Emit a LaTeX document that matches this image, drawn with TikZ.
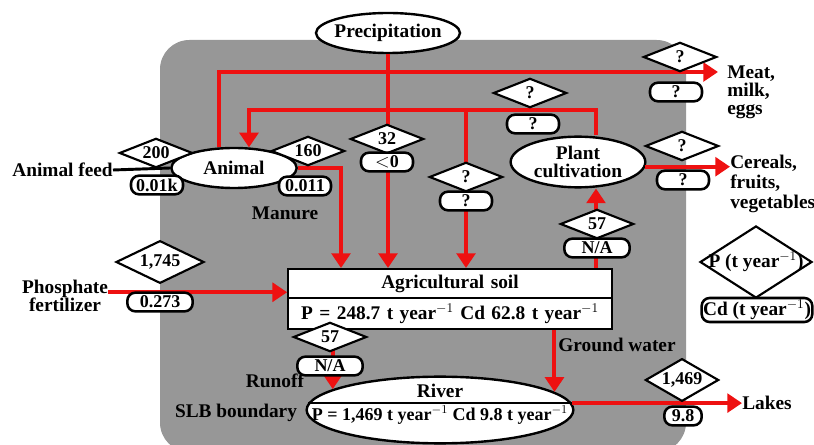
\documentclass[tikz,border=0pt]{standalone}
\usepackage{fontspec}
\setmainfont{Liberation Serif}
\usetikzlibrary{arrows.meta, shapes.geometric, shapes.multipart}
\definecolor{slbgray}{HTML}{979797}
\definecolor{flowred}{HTML}{EE1111}
\newcommand{\dgfont}{\fontsize{14.5}{13.5}\selectfont\bfseries}
\newcommand{\valfont}{\fontsize{13.5}{13}\selectfont\bfseries}

\begin{document}
\begin{tikzpicture}[x=0.75pt, y=-0.75pt, font=\dgfont]
    \tikzset{
      flow/.style={draw=flowred, line width=3pt, -{Triangle[length=11pt, width=14pt]}},
      comp/.style={ellipse, draw, line width=1.8pt, fill=white, inner sep=-3pt, align=center},
      valdia/.style={diamond, draw, line width=1.6pt, fill=white, inner sep=-8pt,
        minimum width=55pt, minimum height=22pt, font=\valfont},
      bigdia/.style={valdia, minimum width=66pt, minimum height=32pt},
      valbox/.style={rectangle, rounded corners=6pt, draw, line width=1.9pt, fill=white,
        minimum width=39pt, minimum height=14pt, inner sep=1pt, font=\valfont},
      lbl/.style={align=left, inner sep=0pt}
    }

    \useasboundingbox (0,0) rectangle (814,445);
    \fill[slbgray, rounded corners=22pt] (160,40) rectangle (686,452);

    \node[comp, minimum width=108pt, minimum height=30pt] (prec) at (388,33) {Precipitation};
    \node[comp, minimum width=94pt, minimum height=30pt] (animal) at (234,168) {Animal};
    \node[comp, minimum width=101pt, minimum height=38pt] (plant) at (578,162) {Plant\\cultivation};
    \node[rectangle split, rectangle split parts=2, draw, line width=1.6pt, fill=white,
      text width=236pt, align=center, inner ysep=3.5pt, anchor=north] (soil) at (450,268)
      {Agricultural soil \nodepart{two} P = 248.7 t year$^{-1}$ Cd 62.8 t year$^{-1}$};
    \node[comp, minimum width=200pt, minimum height=50pt] (river) at (440,410) {};
    \draw[line width=1.6pt] (river.177) -- (river.3);
    \node[inner sep=0pt] (rivername) at (440,391) {River};
    \node[inner sep=0pt, font=\valfont] (riverval) at (440,415) {P = 1,469 t year$^{-1}$ Cd 9.8 t year$^{-1}$};

    \node[anchor=east, inner sep=0pt] (feed) at (113,170) {Animal feed};
    \node[lbl, align=center] (phos) at (65,296) {Phosphate\\fertilizer};
    \node[lbl, anchor=north west] (meat) at (727,66) {Meat,\\milk,\\eggs};
    \node[lbl, anchor=north west, font=\fontsize{14.5}{15}\selectfont\bfseries] (cereals) at (730,155) {Cereals,\\fruits,\\vegetables};
    \node[anchor=west, inner sep=0pt] (lakes) at (742,403) {Lakes};
    \node[inner sep=0pt] (manure) at (285,213) {Manure};
    \node[inner sep=0pt] (runoff) at (275,381) {Runoff};
    \node[inner sep=0pt] (ground) at (617,345) {Ground water};
    \node[inner sep=0pt] (slb) at (236,413) {SLB boundary};

    \coordinate (pc) at (596,110);
    \coordinate (jb) at (466,110);
    \coordinate (mx) at (341,168);
    \coordinate (meatin) at (718,72);
    \path (soil.west) ++(0,-7) coordinate (phin);

    \draw[flow] (prec.south) -- (prec.south |- soil.north);
    \draw[flow] (animal.126) |- (meatin);
    \draw[flow] (plant.north -| pc) -- (pc) -- (animal.54 |- pc) -- (animal.54);
    \draw[flow] (jb) -- (jb |- soil.north);
    \draw[flow] (animal.east) -| (mx |- soil.north);
    \draw[line width=2.2pt] (feed.east) -- (animal.west);
    \draw[flow] (plant.-4) -- (plant.-4 -| cereals.west);
    \draw[flow] (soil.north -| pc) -- (plant.south -| pc);
    \draw[flow] (phin -| phos.east) -- (phin);
    \draw[flow] (river.169 |- soil.south) -- (river.169);
    \draw[flow] (river.9 |- soil.south) -- (river.9);
    \draw[flow] (river.3) -- (river.3 -| lakes.west);

    \node[valdia] (dfeed) at (156,153) {200};
    \node[valbox] (bfeed) at (157,185) {0.01k};
    \node[valdia] (dman) at (308,151) {160};
    \node[valbox] (bman) at (305,186) {0.011};
    \node[valdia] (dprec) at (387,139) {32};
    \node[valbox] (bprec) at (387,162) {$<$0};
    \node[valdia] (dbr) at (466,177) {?};
    \node[valbox] (bbr) at (466,201) {?};
    \node[valdia] (dtop) at (530,93) {?};
    \node[valbox] (btop) at (533,124) {?};
    \node[valdia] (dmeat) at (680,57) {?};
    \node[valbox] (bmeat) at (676,92) {?};
    \node[valdia] (dcer) at (682,146) {?};
    \node[valbox] (bcer) at (683,180) {?};
    \node[valdia] (dup) at (597,224) {57};
    \node[valbox, minimum width=49pt] (bup) at (597,248) {N/A};
    \node[bigdia] (dphos) at (160,262) {1,745};
    \node[valbox, minimum width=49pt] (bphos) at (160,302) {0.273};
    \node[valdia] (drun) at (330,337) {57};
    \node[valbox, minimum width=49pt] (brun) at (330,366) {N/A};
    \node[bigdia, minimum width=55pt] (dlake) at (682,380) {1,469};
    \node[valbox, minimum width=28pt] (blake) at (683,416) {9.8};
    \node[valdia, font=\dgfont, minimum width=84pt, minimum height=45pt] (legp) at (756,262) {P (t year$^{-1}$)};
    \node[valbox, font=\dgfont, minimum width=83pt, minimum height=18pt] (legcd) at (757,310) {Cd (t year$^{-1}$)};
  \end{tikzpicture}
\end{document}
